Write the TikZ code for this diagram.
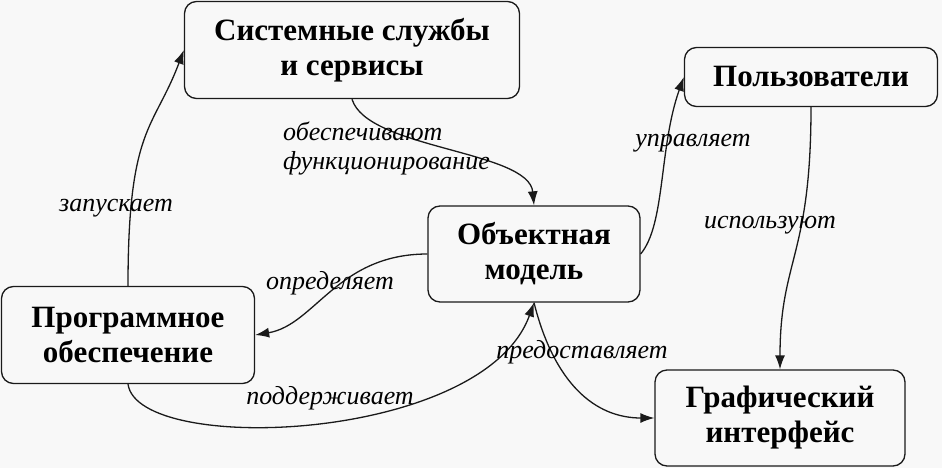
\documentclass[tikz,border=0pt]{standalone}
\usepackage{fontspec}
\setmainfont{Liberation Serif}
\usetikzlibrary{arrows.meta,positioning}
\definecolor{cA}{HTML}{1a1a1a}
\definecolor{cBg}{HTML}{F8F8F8}
\tikzset{
  box/.style={rounded corners=12pt,draw=cA,line width=1.3pt,fill=cBg,
              inner sep=0pt,align=center,
              font=\fontsize{31}{35}\selectfont\bfseries},
  lbl/.style={inner sep=1pt,font=\fontsize{26}{29}\selectfont\itshape},
  maparrow/.style={-{Latex[length=14pt,width=10pt]},line width=1.3pt,cA},
}

\begin{document}
\begin{tikzpicture}[x=1pt,y=-1pt]
  \fill[cBg](0,0) rectangle (942,468);
  \useasboundingbox (0,0) rectangle (942,468);
  % boxes
  \node[box,minimum width=335pt,minimum height=97pt](sys) at (352,50){Системные службы\\и сервисы};
  \node[box,minimum width=253pt,minimum height=59pt](users) at (811,77){Пользователи};
  \node[box,minimum width=212pt,minimum height=96pt](obj) at (534,254){Объектная\\модель};
  \node[box,minimum width=253pt,minimum height=97pt](prog) at (128,335){Программное\\обеспечение};
  \node[box,minimum width=250pt,minimum height=96pt](gui) at (780,418){Графический\\интерфейс};
  % connectors
  \draw[maparrow](prog.north) .. controls +(0,-160) and +(-30,80) .. (sys.west);
  \draw[maparrow](sys.south) .. controls +(15,50) and +(-5,-55) .. (obj.north);
  \draw[maparrow](obj.east) .. controls +(25,-30) and +(-25,70) .. (users.west);
  \draw[maparrow](users.south) .. controls +(0,150) and +(0,-110) .. (gui.north);
  \draw[maparrow](obj.west) .. controls +(-90,0) and +(60,-10) .. (prog.east);
  \draw[maparrow](prog.south) .. controls +(10,72) and +(-50,140) .. (obj.south);
  \draw[maparrow](obj.south) .. controls +(20,80) and +(-60,0) .. (gui.west);
  % labels
  \node[lbl](l1) at (116,208){запускает};
  \node[lbl,anchor=west,align=left](l2) at (282,148){обеспечивают\\функционирование};
  \node[lbl](l3) at (693,143){управляет};
  \node[lbl](l4) at (770,225){используют};
  \node[lbl](l5) at (330,283){определяет};
  \node[lbl](l6) at (330,398){поддерживает};
  \node[lbl](l7) at (582,352){предоставляет};
\end{tikzpicture}
\end{document}
